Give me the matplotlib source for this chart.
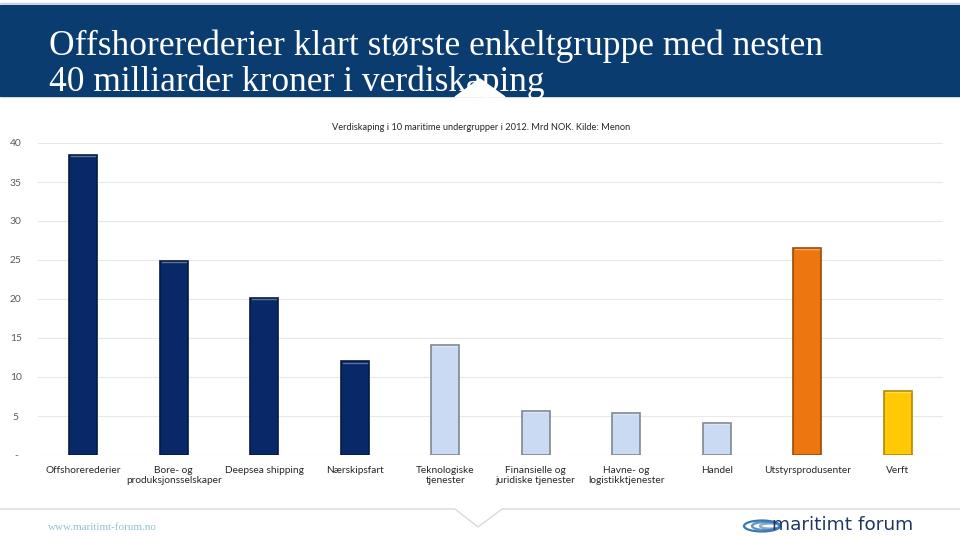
import numpy as np
import matplotlib.pyplot as plt
from matplotlib.patches import Polygon, Rectangle, Ellipse

plt.rcParams.update({
    "font.family": ["Lato", "DejaVu Sans"],
    "axes.unicode_minus": False,
})

categories = [
    "Offshorerederier", "Bore- og\nproduksjonsselskaper", "Deepsea shipping",
    "Nærskipsfart", "Teknologiske\ntjenester", "Finansielle og\njuridiske tjenester",
    "Havne- og\nlogistikktjenester", "Handel", "Utstyrsprodusenter", "Verft",
]
values = [38.5, 24.9, 20.1, 12.0, 14.1, 5.6, 5.4, 4.1, 26.5, 8.2]
groups = ["rederi", "rederi", "rederi", "rederi", "tjeneste", "tjeneste",
          "tjeneste", "tjeneste", "utstyr", "verft"]
yticks = [0, 5, 10, 15, 20, 25, 30, 35, 40]
ytick_labels = ["-", "5", "10", "15", "20", "25", "30", "35", "40"]

fill = {"rederi": "#082868", "tjeneste": "#C9DAF2", "utstyr": "#EE7610", "verft": "#FFC905"}
edge = {"rederi": "#041A45", "tjeneste": "#7F8793", "utstyr": "#9A4A08", "verft": "#B08A00"}
navy = "#0B3C70"

W, H = 960, 539
fig = plt.figure(figsize=(W / 100, H / 100), dpi=100)
fig.patch.set_facecolor("white")

# header band
bg = fig.add_axes([0, 0, 1, 1])
bg.set_xlim(0, W)
bg.set_ylim(H, 0)
bg.axis("off")
bg.add_patch(Rectangle((0, 5), W, 91, color=navy, zorder=1))
bg.plot([0, W], [3, 3], color="#C5D5E4", lw=1, zorder=1)
bg.text(49, 46, "Offshorerederier klart største enkeltgruppe med nesten",
        color="white", fontsize=25.5, family="Liberation Serif", va="center", zorder=3)
bg.text(49, 82, "40 milliarder kroner i verdiskaping",
        color="white", fontsize=25.5, family="Liberation Serif", va="center", zorder=1.5)
bg.add_patch(Polygon([[455, 97], [480, 79], [505, 97]], closed=True, color="white", zorder=2))

# footer line with notch
bg.plot([0, 455, 478, 502, W], [509, 509, 527, 509, 509], color="#D9D9D9", lw=1)
bg.text(48, 527, "www.maritimt-forum.no", color="#8FC3CC", fontsize=8,
        family="Liberation Serif", va="center")
bg.text(772, 525, "maritimt forum", color="#1F3566", fontsize=13.3, va="center",
        family="DejaVu Sans")
for i, a in enumerate([1.0, 0.8, 0.6]):
    bg.add_patch(Ellipse((762 + i * 4, 526), 36 - i * 8, 11 - i * 3,
                 fill=False, ec="#3A78B0", lw=1.6, alpha=a))

# chart
ax = fig.add_axes([38 / W, 1 - 455 / H, (943 - 38) / W, (455 - 143) / H])
x = np.arange(len(categories))
bars = ax.bar(x, values, width=0.31,
              color=[fill[g] for g in groups],
              edgecolor=[edge[g] for g in groups], linewidth=1.2, zorder=3)
# light top highlight
for b in bars:
    ax.plot([b.get_x() + 0.02, b.get_x() + b.get_width() - 0.02],
            [b.get_height() - 0.15] * 2, color="white", alpha=0.35, lw=1, zorder=4)

ax.set_xlim(-0.5, len(categories) - 0.5)
ax.set_ylim(0, 40)
ax.set_yticks(yticks)
ax.set_yticklabels(ytick_labels)
ax.set_xticks(x)
ax.set_xticklabels(categories, fontsize=7.3, color="#262626", linespacing=1.12)
ax.tick_params(axis="y", labelsize=7.4, labelcolor="#595959", length=0, pad=16)
ax.tick_params(axis="x", length=0, pad=8)
for lab in ax.get_yticklabels():
    lab.set_horizontalalignment("center")
ax.grid(axis="y", color="#E8E8E8", lw=0.8, zorder=0)
for s in ax.spines.values():
    s.set_visible(False)
ax.axhline(0, color="#E0E0E0", lw=0.8, zorder=1)

fig.text(481 / W, 1 - 128 / H, "Verdiskaping i 10 maritime undergrupper i 2012. Mrd NOK. Kilde: Menon",
         ha="center", va="center", fontsize=6.7, color="#262626")

fig.savefig("out.png", dpi=100)
